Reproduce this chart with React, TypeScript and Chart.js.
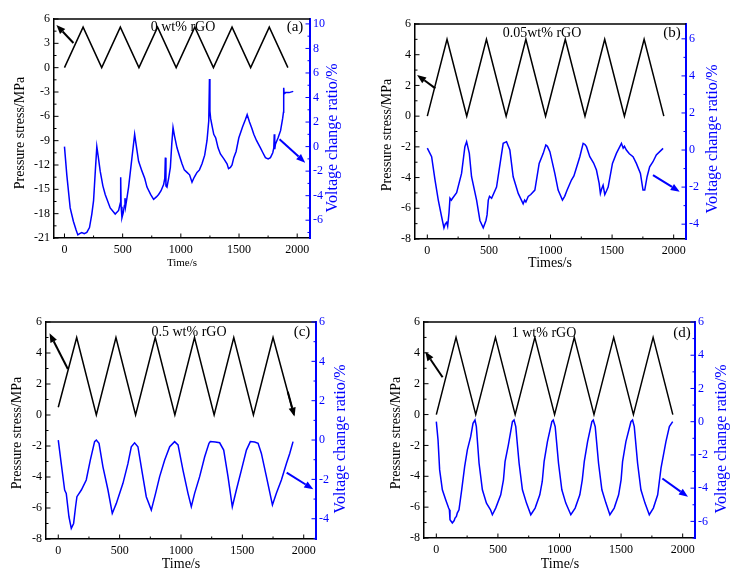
import React, { useEffect, useRef } from "react";
import { Chart, registerables } from "chart.js";

Chart.register(...registerables);

const FONT = "'Liberation Serif', 'Times New Roman', serif";
const BLUE = "#0000ff";

// ---------- shared tick values ----------
const timeTicks = [0, 500, 1000, 1500, 2000];
const stressTicksA = [-21, -18, -15, -12, -9, -6, -3, 0, 3, 6];
const stressTicks = [-8, -6, -4, -2, 0, 2, 4, 6];
const voltTicksA = [-6, -4, -2, 0, 2, 4, 6, 8, 10];
const voltTicksBC = [-4, -2, 0, 2, 4, 6];
const voltTicksD = [-6, -4, -2, 0, 2, 4, 6];

// ---------- pressure stress (triangle loading) ----------
const stressA: [number, number][] = [[0, 0], [160, 5], [320, 0], [480, 5], [640, 0], [800, 5], [960, 0], [1120, 5], [1280, 0], [1440, 5], [1600, 0], [1760, 5], [1920, 0]];
const stressB: [number, number][] = [[0, 0], [160, 5], [320, 0], [480, 5], [640, 0], [800, 5], [960, 0], [1120, 5], [1280, 0], [1440, 5], [1600, 0], [1760, 5], [1920, 0]];
const stressC: [number, number][] = [[0, 0.5], [150, 5], [310, 0], [470, 5], [630, 0], [790, 5], [950, 0], [1110, 5], [1270, 0], [1430, 5], [1590, 0], [1750, 5], [1920, 0]];
const stressD: [number, number][] = [[0, 0], [160, 5], [320, 0], [480, 5], [640, 0], [800, 5], [960, 0], [1120, 5], [1280, 0], [1440, 5], [1600, 0], [1760, 5], [1920, 0]];

// ---------- voltage change ratio (%) ----------
const voltA: [number, number][] = [
  [0, 0], [20, -2.3], [49, -5.0], [77, -6.1], [100, -6.8], [115, -7.2], [130, -7.1], [149, -7.0], [170, -7.1], [192, -7.0],
  [215, -6.6], [235, -5.5], [250, -4.4], [265, -2.0], [278, 0], [290, -0.8], [307, -2.0], [330, -3.2], [350, -3.9], [393, -5.0],
  [436, -5.5], [465, -5.2], [480, -4.6], [483, -2.5], [487, -4.9], [494, -5.8], [505, -5.4], [515, -4.8], [520, -4.2], [525, -4.9],
  [540, -4.0], [551, -3.3], [580, -0.9], [603, 1.0], [615, 0.2], [637, -1.2], [666, -2.0], [690, -2.6], [709, -3.3], [740, -3.9],
  [766, -4.3], [790, -4.1], [809, -3.9], [830, -3.6], [852, -3.1], [862, -2.6], [867, -0.9], [872, -3.2], [881, -3.3], [895, -2.6],
  [910, -1.7], [922, 0.2], [933, 1.55], [945, 0.9], [967, -0.1], [990, -0.8], [1010, -1.4], [1030, -1.9], [1053, -2.1], [1075, -2.3],
  [1096, -2.9], [1115, -2.5], [1139, -2.1], [1160, -1.9], [1182, -1.4], [1205, -0.7], [1225, 0.5], [1240, 2.1], [1246, 5.5], [1250, 2.9],
  [1256, 2.3], [1270, 1.6], [1283, 1.0], [1300, 0.7], [1320, -0.1], [1340, -0.6], [1370, -1.0], [1397, -1.4], [1410, -1.8], [1426, -1.7],
  [1440, -1.5], [1455, -0.9], [1475, -0.4], [1498, 0.7], [1530, 1.6], [1555, 2.2], [1570, 2.6], [1590, 2.0], [1610, 1.5], [1627, 1.0],
  [1650, 0.5], [1684, -0.1], [1705, -0.5], [1727, -0.9], [1750, -1.0], [1770, -0.9], [1790, -0.5], [1799, -0.1], [1803, 1.0], [1807, -0.2],
  [1813, 0.2], [1835, 0.7], [1857, 1.3], [1875, 2.3], [1882, 2.8], [1884, 4.8], [1888, 4.3], [1900, 4.4], [1930, 4.4], [1966, 4.5],
];
const voltB: [number, number][] = [
  [0, 0.1], [35, -0.36], [62, -1.6], [89, -2.7], [116, -3.6], [135, -4.2], [145, -4.0], [157, -3.9], [165, -4.1], [176, -3.4],
  [184, -2.6], [195, -2.7], [205, -2.6], [238, -2.3], [278, -1.26], [305, 0.18], [319, 0.45], [341, -0.18], [359, -1.44], [400, -2.7],
  [427, -3.8], [454, -4.2], [465, -4.0], [476, -3.8], [485, -3.5], [495, -2.7], [505, -2.5], [522, -2.6], [562, -2.0], [595, -0.54],
  [616, 0.36], [643, 0.45], [670, 0], [697, -1.44], [738, -2.34], [778, -2.9], [790, -2.7], [800, -2.8], [819, -2.5], [840, -2.4],
  [873, -2.16], [908, -0.72], [941, -0.18], [962, 0.27], [975, 0.2], [995, -0.09], [1035, -1.26], [1062, -2.16], [1097, -2.7], [1115, -2.5],
  [1135, -2.16], [1170, -1.62], [1190, -1.4], [1205, -1.08], [1238, -0.36], [1265, 0.36], [1280, 0.3], [1292, 0.18], [1319, -0.36], [1350, -0.7],
  [1373, -1.08], [1395, -1.8], [1405, -2.34], [1415, -2.1], [1427, -1.9], [1441, -2.4], [1455, -2.2], [1468, -2.0], [1503, -0.72], [1535, -0.18],
  [1576, 0.36], [1590, 0.1], [1600, 0.2], [1616, 0], [1640, -0.2], [1670, -0.36], [1697, -0.72], [1730, -1.26], [1751, -2.16], [1765, -2.16],
  [1784, -1.44], [1805, -0.9], [1832, -0.63], [1859, -0.27], [1914, 0.09],
];
const voltC: [number, number][] = [
  [0, 0], [24, -1.19], [52, -2.54], [65, -2.71], [87, -3.9], [106, -4.49], [125, -4.24], [141, -3.39], [152, -2.88], [188, -2.54],
  [228, -2.03], [261, -1.02], [296, -0.08], [310, 0], [332, -0.17], [364, -1.36], [405, -2.54], [440, -3.73], [473, -3.22], [527, -2.2],
  [568, -1.19], [595, -0.34], [622, -0.14], [649, -0.34], [685, -1.69], [717, -2.88], [758, -3.56], [793, -2.71], [826, -1.86], [867, -1.02],
  [908, -0.34], [948, -0.08], [976, -0.25], [1016, -1.53], [1057, -2.71], [1084, -3.39], [1111, -2.71], [1152, -1.86], [1193, -0.85], [1228, -0.17],
  [1239, -0.08], [1280, -0.1], [1315, -0.14], [1348, -0.51], [1383, -1.86], [1418, -3.39], [1451, -2.54], [1492, -1.53], [1533, -0.51], [1565, -0.08],
  [1600, -0.1], [1628, -0.17], [1655, -0.68], [1696, -1.86], [1745, -3.3], [1777, -2.71], [1818, -2.03], [1859, -1.19], [1886, -0.68], [1913, -0.08],
];
const voltD: [number, number][] = [
  [0, 0], [14, -1.1], [27, -2.9], [49, -4.1], [76, -4.7], [100, -5.2], [106, -5.3], [111, -5.9], [130, -6.1], [145, -5.95],
  [152, -5.8], [163, -5.7], [170, -5.5], [184, -5.3], [206, -4.1], [230, -2.7], [252, -1.7], [279, -0.9], [298, -0.1], [314, 0.1],
  [325, -0.3], [347, -2.5], [374, -4.1], [407, -4.9], [440, -5.3], [455, -5.6], [482, -5.2], [523, -4.4], [545, -3.5], [558, -2.4],
  [585, -1.4], [618, 0], [631, 0.1], [645, -0.3], [672, -2.5], [699, -4.1], [732, -4.9], [767, -5.6], [802, -5.2], [840, -4.4],
  [860, -3.6], [875, -2.4], [902, -1.2], [938, 0], [949, 0.1], [965, -0.3], [992, -2.5], [1019, -4.1], [1051, -4.9], [1092, -5.6],
  [1127, -5.2], [1165, -4.4], [1185, -3.5], [1201, -2.4], [1228, -1.2], [1263, 0], [1274, 0.1], [1290, -0.3], [1317, -2.5], [1344, -4.1],
  [1377, -4.9], [1409, -5.6], [1444, -5.2], [1480, -4.4], [1500, -3.5], [1512, -2.4], [1539, -1.2], [1580, 0], [1593, 0.1], [1607, -0.3],
  [1634, -2.5], [1661, -4.1], [1694, -4.9], [1729, -5.6], [1762, -5.2], [1797, -4.4], [1824, -2.8], [1864, -1.2], [1892, -0.3], [1919, 0],
];

// ---------- text ----------
const panelLabels = ["0 wt% rGO", "0.05wt% rGO", "0.5 wt% rGO", "1 wt% rGO"];
const panelTags = ["(a)", "(b)", "(c)", "(d)"];
const xTitles = ["Time/s", "Times/s", "Time/s", "Time/s"];
const leftTitle = "Pressure stress/MPa";
const rightTitle = "Voltage change ratio/%";

type Arrow = { axis: "y" | "y1"; from: [number, number]; to: [number, number] };

interface PanelCfg {
  x: number; y: number; w: number; h: number;
  plot: { l: number; r: number; t: number; b: number };
  xMin: number; xMax: number;
  yMin: number; yMax: number; yTicks: number[];
  y1Min: number; y1Max: number; y1Ticks: number[];
  stress: [number, number][]; volt: [number, number][];
  label: string; tag: string; xTitle: string;
  labelPos: [number, number]; tagPos: [number, number];
  leftTitlePos: [number, number]; rightTitlePos: [number, number];
  xTitlePos: [number, number]; xTitleSize: number;
  arrows: Arrow[];
}

const panels: PanelCfg[] = [
  {
    x: 0, y: 0, w: 370, h: 290, plot: { l: 54, r: 310, t: 19, b: 238 },
    xMin: -90, xMax: 2110, yMin: -21, yMax: 6, yTicks: stressTicksA,
    y1Min: -7.45, y1Max: 10.4, y1Ticks: voltTicksA,
    stress: stressA, volt: voltA,
    label: panelLabels[0], tag: panelTags[0], xTitle: xTitles[0],
    labelPos: [183, 27], tagPos: [295, 27], leftTitlePos: [20, 133], rightTitlePos: [333, 138],
    xTitlePos: [182, 263], xTitleSize: 11,
    arrows: [
      { axis: "y", from: [77, 3.04], to: [-69, 5.26] },
      { axis: "y1", from: [1848, 0.6], to: [2069, -1.31] },
    ],
  },
  {
    x: 370, y: 0, w: 370, h: 290, plot: { l: 45, r: 316, t: 24, b: 239 },
    xMin: -100, xMax: 2100, yMin: -8, yMax: 6, yTicks: stressTicks,
    y1Min: -4.8, y1Max: 6.8, y1Ticks: voltTicksBC,
    stress: stressB, volt: voltB,
    label: panelLabels[1], tag: panelTags[1], xTitle: xTitles[1],
    labelPos: [172, 33], tagPos: [302, 33], leftTitlePos: [17, 135], rightTitlePos: [343, 139],
    xTitlePos: [180, 263], xTitleSize: 14,
    arrows: [
      { axis: "y", from: [65, 1.81], to: [-83, 2.68] },
      { axis: "y1", from: [1832, -1.35], to: [2049, -2.25] },
    ],
  },
  {
    x: 0, y: 290, w: 370, h: 289, plot: { l: 46, r: 316, t: 32, b: 249 },
    xMin: -100, xMax: 2100, yMin: -8, yMax: 6, yTicks: stressTicks,
    y1Min: -5.03, y1Max: 6, y1Ticks: voltTicksBC,
    stress: stressC, volt: voltC,
    label: panelLabels[2], tag: panelTags[2], xTitle: xTitles[2],
    labelPos: [189, 42], tagPos: [302, 42], leftTitlePos: [17, 143], rightTitlePos: [341, 149],
    xTitlePos: [181, 274], xTitleSize: 14,
    arrows: [
      { axis: "y", from: [78, 2.97], to: [-71, 5.27] },
      { axis: "y", from: [1870, 1.5], to: [1925, -0.1] },
      { axis: "y1", from: [1861, -1.66], to: [2078, -2.5] },
    ],
  },
  {
    x: 370, y: 290, w: 370, h: 289, plot: { l: 54, r: 325, t: 32, b: 248 },
    xMin: -100, xMax: 2100, yMin: -8, yMax: 6, yTicks: stressTicks,
    y1Min: -7, y1Max: 6, y1Ticks: voltTicksD,
    stress: stressD, volt: voltD,
    label: panelLabels[3], tag: panelTags[3], xTitle: xTitles[3],
    labelPos: [174, 43], tagPos: [312, 43], leftTitlePos: [26, 143], rightTitlePos: [352, 149],
    xTitlePos: [190, 274], xTitleSize: 14,
    arrows: [
      { axis: "y", from: [51, 2.42], to: [-89, 4.07] },
      { axis: "y1", from: [1835, -3.42], to: [2043, -4.52] },
    ],
  },
];

function drawArrow(ctx: CanvasRenderingContext2D, x1: number, y1: number, x2: number, y2: number, color: string) {
  const ang = Math.atan2(y2 - y1, x2 - x1);
  const hl = 9, hw = 3.6;
  const c = Math.cos(ang), s = Math.sin(ang);
  const bx = x2 - hl * c, by = y2 - hl * s;
  ctx.strokeStyle = color;
  ctx.fillStyle = color;
  ctx.lineWidth = 2;
  ctx.beginPath();
  ctx.moveTo(x1, y1);
  ctx.lineTo(bx, by);
  ctx.stroke();
  ctx.beginPath();
  ctx.moveTo(x2, y2);
  ctx.lineTo(bx + hw * s, by - hw * c);
  ctx.lineTo(bx - hw * s, by + hw * c);
  ctx.closePath();
  ctx.fill();
}

function mids(v: number[]): number[] {
  const out: number[] = [];
  for (let i = 0; i < v.length - 1; i++) out.push((v[i] + v[i + 1]) / 2);
  return out;
}

function Panel({ cfg }: { cfg: PanelCfg }) {
  const ref = useRef<HTMLCanvasElement>(null);
  useEffect(() => {
    const canvas = ref.current!;
    const decor = {
      id: "decor",
      beforeDatasetsDraw(chart: any) {
        const ctx = chart.ctx as CanvasRenderingContext2D;
        ctx.save();
        ctx.fillStyle = "#000";
        ctx.textAlign = "center";
        ctx.textBaseline = "middle";
        ctx.font = `14px ${FONT}`;
        ctx.fillText(cfg.label, cfg.labelPos[0], cfg.labelPos[1]);
        ctx.font = `15px ${FONT}`;
        ctx.fillText(cfg.tag, cfg.tagPos[0], cfg.tagPos[1]);
        ctx.restore();
      },
      afterDraw(chart: any) {
        const ctx = chart.ctx as CanvasRenderingContext2D;
        const { left, right, top, bottom } = chart.chartArea;
        const sx = chart.scales.x, sy = chart.scales.y, sy1 = chart.scales.y1;
        ctx.save();
        // top frame line
        ctx.strokeStyle = "#000";
        ctx.lineWidth = 1.5;
        ctx.beginPath();
        ctx.moveTo(left, top);
        ctx.lineTo(right, top);
        ctx.stroke();
        // inward ticks
        ctx.lineWidth = 1;
        const tick = (x1: number, y1: number, x2: number, y2: number) => {
          ctx.beginPath();
          ctx.moveTo(x1, y1);
          ctx.lineTo(x2, y2);
          ctx.stroke();
        };
        ctx.strokeStyle = "#000";
        timeTicks.forEach((t) => { const p = sx.getPixelForValue(t); tick(p, bottom, p, bottom - 4.5); });
        mids(timeTicks).forEach((t) => { const p = sx.getPixelForValue(t); tick(p, bottom, p, bottom - 2.5); });
        cfg.yTicks.forEach((v) => { const p = sy.getPixelForValue(v); tick(left, p, left + 4.5, p); });
        mids(cfg.yTicks).forEach((v) => { const p = sy.getPixelForValue(v); tick(left, p, left + 2.5, p); });
        ctx.strokeStyle = BLUE;
        cfg.y1Ticks.forEach((v) => { const p = sy1.getPixelForValue(v); tick(right, p, right - 4.5, p); });
        const y1m = mids(cfg.y1Ticks);
        y1m.push(cfg.y1Ticks[0] - 1);
        y1m.forEach((v) => { if (v < cfg.y1Min) return; const p = sy1.getPixelForValue(v); tick(right, p, right - 2.5, p); });
        // arrows
        cfg.arrows.forEach((a) => {
          const ys = a.axis === "y" ? sy : sy1;
          drawArrow(ctx, sx.getPixelForValue(a.from[0]), ys.getPixelForValue(a.from[1]),
            sx.getPixelForValue(a.to[0]), ys.getPixelForValue(a.to[1]), a.axis === "y" ? "#000" : BLUE);
        });
        // axis titles
        ctx.textAlign = "center";
        ctx.textBaseline = "middle";
        ctx.save();
        ctx.translate(cfg.leftTitlePos[0], cfg.leftTitlePos[1]);
        ctx.rotate(-Math.PI / 2);
        ctx.fillStyle = "#000";
        ctx.font = `14px ${FONT}`;
        ctx.fillText(leftTitle, 0, 0);
        ctx.restore();
        ctx.save();
        ctx.translate(cfg.rightTitlePos[0], cfg.rightTitlePos[1]);
        ctx.rotate(-Math.PI / 2);
        ctx.fillStyle = BLUE;
        ctx.font = `16px ${FONT}`;
        ctx.fillText(rightTitle, 0, 0);
        ctx.restore();
        ctx.fillStyle = "#000";
        ctx.font = `${cfg.xTitleSize}px ${FONT}`;
        ctx.fillText(cfg.xTitle, cfg.xTitlePos[0], cfg.xTitlePos[1]);
        ctx.restore();
      },
    };

    const tickFont = { family: FONT, size: 12 };
    const chart = new Chart(canvas, {
      type: "line",
      data: {
        datasets: [
          {
            data: cfg.stress.map(([t, p]) => ({ x: t, y: p })),
            borderColor: "#000",
            borderWidth: 1.5,
            pointRadius: 0,
            tension: 0,
            yAxisID: "y",
          },
          {
            data: cfg.volt.map(([t, v]) => ({ x: t, y: v })),
            borderColor: BLUE,
            borderWidth: 1.5,
            pointRadius: 0,
            tension: 0,
            yAxisID: "y1",
          },
        ],
      },
      options: {
        responsive: false,
        animation: false,
        devicePixelRatio: 1,
        layout: { padding: { top: cfg.plot.t, left: 0, right: 0, bottom: 0 } },
        plugins: { legend: { display: false }, tooltip: { enabled: false }, title: { display: false } },
        scales: {
          x: {
            type: "linear",
            position: "bottom",
            min: cfg.xMin,
            max: cfg.xMax,
            afterBuildTicks: (s: any) => { s.ticks = timeTicks.map((v) => ({ value: v })); },
            afterFit: (s: any) => { s.height = cfg.h - cfg.plot.b; },
            grid: { display: false, drawTicks: false },
            border: { display: true, color: "#000", width: 1.5 },
            ticks: { color: "#000", font: tickFont, padding: 5, maxRotation: 0, autoSkip: false, callback: (v: any) => String(v) },
          },
          y: {
            type: "linear",
            position: "left",
            min: cfg.yMin,
            max: cfg.yMax,
            afterBuildTicks: (s: any) => { s.ticks = cfg.yTicks.map((v) => ({ value: v })); },
            afterFit: (s: any) => { s.width = cfg.plot.l; },
            grid: { display: false, drawTicks: false },
            border: { display: true, color: "#000", width: 1.5 },
            ticks: { color: "#000", font: tickFont, padding: 4, autoSkip: false, callback: (v: any) => String(v) },
          },
          y1: {
            type: "linear",
            position: "right",
            min: cfg.y1Min,
            max: cfg.y1Max,
            afterBuildTicks: (s: any) => { s.ticks = cfg.y1Ticks.map((v) => ({ value: v })); },
            afterFit: (s: any) => { s.width = cfg.w - cfg.plot.r; },
            grid: { display: false, drawTicks: false },
            border: { display: true, color: BLUE, width: 2 },
            ticks: { color: BLUE, font: tickFont, padding: 3, autoSkip: false, callback: (v: any) => String(v) },
          },
        },
      },
      plugins: [decor],
    } as any);
    return () => chart.destroy();
  }, [cfg]);
  return (
    <canvas
      ref={ref}
      width={cfg.w}
      height={cfg.h}
      style={{ position: "absolute", left: cfg.x, top: cfg.y, width: cfg.w, height: cfg.h }}
    />
  );
}

export default function App() {
  return (
    <div style={{ position: "fixed", left: 0, top: 0, width: 740, height: 579, background: "#fff" }}>
      {panels.map((p, i) => (
        <Panel key={i} cfg={p} />
      ))}
    </div>
  );
}
